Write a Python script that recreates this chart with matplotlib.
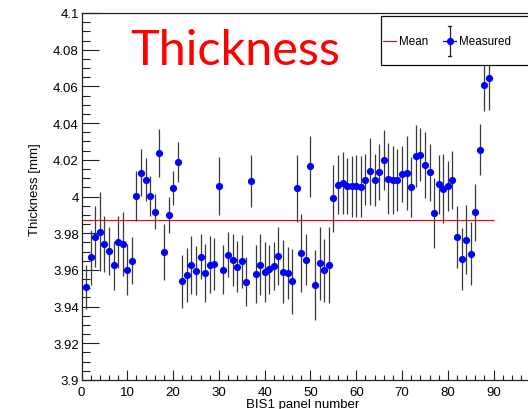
import numpy as np
import matplotlib
matplotlib.use("Agg")
import matplotlib.pyplot as plt
from matplotlib.patches import Rectangle
from matplotlib.lines import Line2D
from matplotlib.ticker import MultipleLocator, FuncFormatter

# BIS1 panel thickness measurements [mm] and their uncertainties
panels = list(range(1, 90))
thickness = [
    3.9506, 3.9669, 3.9782, 3.9809, 3.9740, 3.9702, 3.9626, 3.9753, 3.9740, 3.9600,
    3.9651, 4.0002, 4.0129, 4.0092, 4.0002, 3.9918, 4.0238, 3.9696, 3.9900, 4.0045,
    4.0190, 3.9538, 3.9574, 3.9626, 3.9595, 3.9673, 3.9582, 3.9629, 3.9633, 4.0059,
    3.9602, 3.9683, 3.9654, 3.9616, 3.9647, 3.9536, 4.0085, 3.9578, 3.9629, 3.9587,
    3.9604, 3.9620, 3.9676, 3.9591, 3.9584, 3.9538, 4.0045, 3.9693, 3.9654, 4.0165,
    3.9518, 3.9635, 3.9598, 3.9626, 3.9991, 4.0063, 4.0072, 4.0056, 4.0056, 4.0056,
    4.0054, 4.0092, 4.0138, 4.0089, 4.0134, 4.0199, 4.0098, 4.0090, 4.0092, 4.0121,
    4.0127, 4.0054, 4.0220, 4.0228, 4.0171, 4.0132, 3.9909, 4.0067, 4.0043, 4.0056,
    4.0092, 3.9778, 3.9658, 3.9765, 3.9689, 3.9914, 4.0256, 4.0610, 4.0645,
]
thickness_err = [
    0.0120, 0.0150, 0.0165, 0.0213, 0.0152, 0.0132, 0.0134, 0.0143, 0.0175, 0.0139,
    0.0129, 0.0137, 0.0128, 0.0116, 0.0107, 0.0094, 0.0132, 0.0153, 0.0098, 0.0094,
    0.0109, 0.0144, 0.0147, 0.0158, 0.0134, 0.0124, 0.0157, 0.0156, 0.0140, 0.0158,
    0.0136, 0.0124, 0.0142, 0.0139, 0.0144, 0.0133, 0.0143, 0.0157, 0.0167, 0.0163,
    0.0133, 0.0131, 0.0157, 0.0172, 0.0140, 0.0176, 0.0183, 0.0214, 0.0139, 0.0166,
    0.0193, 0.0198, 0.0171, 0.0206, 0.0183, 0.0161, 0.0169, 0.0152, 0.0166, 0.0169,
    0.0166, 0.0141, 0.0182, 0.0143, 0.0154, 0.0161, 0.0192, 0.0187, 0.0169, 0.0152,
    0.0202, 0.0163, 0.0167, 0.0144, 0.0180, 0.0154, 0.0190, 0.0160, 0.0187, 0.0136,
    0.0158, 0.0170, 0.0170, 0.0187, 0.0173, 0.0155, 0.0140, 0.0144, 0.0171,
]
mean_thickness = float(np.mean(thickness))

W, H = 528, 410
plt.rcParams["font.family"] = ["Liberation Sans", "DejaVu Sans"]
fig = plt.figure(figsize=(W / 100, H / 100), dpi=100)

# axes frame in pixel units of the canvas
ax_l, ax_r, ax_t, ax_b = 81.5, 528.0, 14.0, 381.0
ax = fig.add_axes([ax_l / W, 1 - ax_b / H, (ax_r - ax_l) / W, (ax_b - ax_t) / H])

def px_to_ax(px, py):
    return (px - ax_l) / (ax_r - ax_l), (ax_b - py) / (ax_b - ax_t)

ax.set_xlim(0, 97.5)
ax.set_ylim(3.9, 4.1)

# mean line
ax.hlines(mean_thickness, 0, 90, colors="#ff0000", linewidth=0.8, zorder=2)

# measurements
ax.errorbar(panels, thickness, yerr=thickness_err, fmt="o", color="#0000ff",
            markersize=5.2, markeredgewidth=0, ecolor="#3a3a3a", elinewidth=0.9,
            capsize=1.5, capthick=0.9, zorder=3)

# ROOT-like axis styling
ax.spines["right"].set_visible(False)
for side in ("left", "bottom", "top"):
    ax.spines[side].set_linewidth(0.9)
    ax.spines[side].set_color("#222222")

ax.xaxis.set_major_locator(MultipleLocator(10))
ax.xaxis.set_minor_locator(MultipleLocator(2))
ax.yaxis.set_major_locator(MultipleLocator(0.02))
ax.yaxis.set_minor_locator(MultipleLocator(0.005))
ax.yaxis.set_major_formatter(FuncFormatter(lambda v, p: f"{round(v, 3):g}"))

ax.tick_params(axis="both", which="both", direction="in", width=0.8, color="#222222",
               labelsize=9.5, top=False, right=False)
ax.tick_params(axis="y", which="major", length=12, pad=2)
ax.tick_params(axis="y", which="minor", length=6)
ax.tick_params(axis="x", which="major", length=7.2, pad=4)
ax.tick_params(axis="x", which="minor", length=3.6)

fig.text(302.5 / W, 1 - 399.5 / H, "BIS1 panel number", ha="center", va="top",
         fontsize=9.5)
fig.text(35 / W, 1 - 190 / H, "Thickness [mm]", rotation=90, ha="center", va="center",
         fontsize=9.5)

# title
fig.text(130 / W, 1 - 65 / H, "Thickness", color="#ff0000", fontsize=35,
         family=["Lato", "DejaVu Sans"], ha="left", va="baseline")

# legend box
x0, y0 = px_to_ax(381, 66)
x1, y1 = px_to_ax(545, 17.3)
ax.add_patch(Rectangle((x0, y0), x1 - x0, y1 - y0, transform=ax.transAxes,
                       facecolor="white", edgecolor="#111111", linewidth=0.9,
                       clip_on=False, zorder=5))
ly = px_to_ax(0, 42)[1]
a, _ = px_to_ax(383, 0)
b, _ = px_to_ax(396, 0)
ax.add_line(Line2D([a, b], [ly, ly], transform=ax.transAxes, color="#ff0000",
                   linewidth=0.8, clip_on=False, zorder=6))
ax.text(px_to_ax(399, 0)[0], ly, "Mean", transform=ax.transAxes, fontsize=8.4,
        ha="left", va="center", zorder=6)
a, _ = px_to_ax(443, 0)
b, _ = px_to_ax(456, 0)
mx, _ = px_to_ax(449.5, 0)
_, et = px_to_ax(0, 27)
_, eb = px_to_ax(0, 57)
ax.add_line(Line2D([a, b], [ly, ly], transform=ax.transAxes, color="#0000ff",
                   linewidth=0.9, clip_on=False, zorder=6))
ax.add_line(Line2D([mx, mx], [eb, et], transform=ax.transAxes, color="#222222",
                   linewidth=0.9, clip_on=False, zorder=6))
cw = 2.0 / (ax_r - ax_l)
for yy in (eb, et):
    ax.add_line(Line2D([mx - cw, mx + cw], [yy, yy], transform=ax.transAxes,
                       color="#222222", linewidth=0.9, clip_on=False, zorder=6))
ax.add_line(Line2D([mx], [ly], transform=ax.transAxes, marker="o", color="#0000ff",
                   markersize=5.2, markeredgewidth=0, clip_on=False, zorder=7))
ax.text(px_to_ax(459, 0)[0], ly, "Measured", transform=ax.transAxes, fontsize=8.4,
        ha="left", va="center", zorder=6)

fig.savefig("out.png", dpi=100)
